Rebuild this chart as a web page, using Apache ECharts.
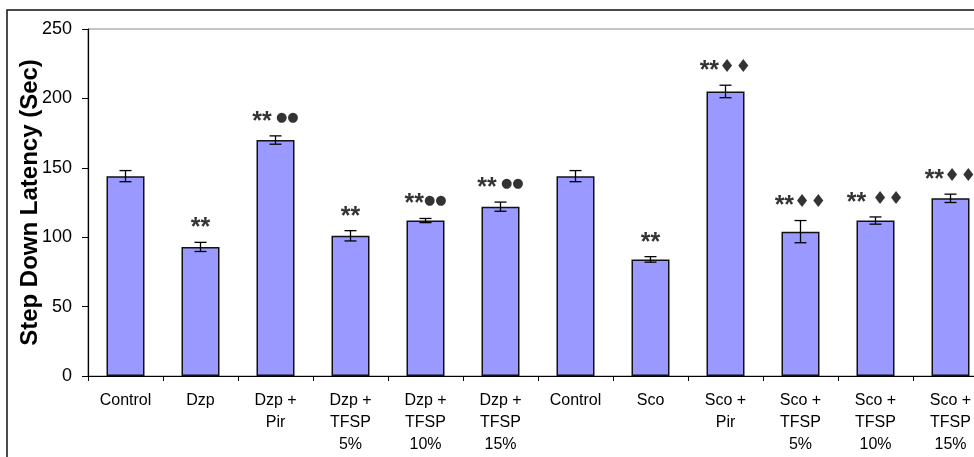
<!DOCTYPE html>
<html>
<head>
<meta charset="utf-8">
<script src="https://cdn.jsdelivr.net/npm/echarts@6/dist/echarts.min.js"></script>
<style>html,body{margin:0;padding:0;background:#fff;overflow:hidden;}#c{width:988px;height:457px;}</style>
</head>
<body>
<div id="c"></div>
<script>
const categories = ['Control', 'Dzp', 'Dzp +\nPir', 'Dzp +\nTFSP\n5%', 'Dzp +\nTFSP\n10%', 'Dzp +\nTFSP\n15%',
  'Control', 'Sco', 'Sco +\nPir', 'Sco +\nTFSP\n5%', 'Sco +\nTFSP\n10%', 'Sco +\nTFSP\n15%'];
const means = [144, 93, 170, 101, 112, 122, 144, 84, 205, 104, 112, 128];
const errors = [4, 3.3, 3, 3.7, 1.5, 3.3, 4, 2, 4.5, 8, 2.6, 3];
const stars = ['', '**', '**', '**', '**', '**', '', '**', '**', '**', '**', '**'];
const marks = ['', '', ' ●●', '', '●●', ' ●●', '', '', '♦♦', '♦♦', ' ♦♦', '♦♦'];
const yTicks = [0, 50, 100, 150, 200, 250];

const chart = echarts.init(document.getElementById('c'), null, {renderer: 'canvas'});
const font = 'Liberation Sans, Arial, sans-serif';

chart.setOption({
  animation: false,
  backgroundColor: '#fff',
  textStyle: {fontFamily: font},
  graphic: [{
    type: 'rect', z: -1,
    shape: {x: 7, y: 10, width: 1200, height: 800},
    style: {fill: 'none', stroke: '#111', lineWidth: 1.5}
  }],
  grid: {left: 88, top: 29, width: 900, height: 347, show: true, borderColor: '#8a8a8a', borderWidth: 1},
  xAxis: {
    type: 'category', data: categories,
    axisLine: {lineStyle: {color: '#000', width: 1.2}},
    axisTick: {show: true, length: 5, lineStyle: {color: '#000'}},
    axisLabel: {color: '#000', fontSize: 16, lineHeight: 22, margin: 14, interval: 0, fontFamily: font}
  },
  yAxis: {
    type: 'value', min: yTicks[0], max: yTicks[yTicks.length - 1], interval: 50,
    name: 'Step Down Latency (Sec)', nameLocation: 'middle', nameGap: 46, nameMoveOverlap: false,
    nameTextStyle: {color: '#000', fontSize: 24, fontWeight: 'bold', fontFamily: font},
    axisLine: {show: true, lineStyle: {color: '#000', width: 1.2}},
    axisTick: {show: true, length: 6, lineStyle: {color: '#000'}},
    axisLabel: {color: '#000', fontSize: 18, margin: 16, fontFamily: font},
    splitLine: {show: false}
  },
  series: [
    {
      type: 'bar', data: means, barWidth: 38,
      itemStyle: {color: '#9999ff', borderColor: '#111', borderWidth: 1.5}
    },
    {
      type: 'custom', z: 5,
      data: means.map((m, i) => [i, m - errors[i], m + errors[i]]),
      renderItem: function (params, api) {
        const lo = api.coord([api.value(0), api.value(1)]);
        const hi = api.coord([api.value(0), api.value(2)]);
        const hw = 6;
        const st = {stroke: '#000', lineWidth: 1.3};
        return {type: 'group', children: [
          {type: 'line', shape: {x1: lo[0], y1: lo[1], x2: hi[0], y2: hi[1]}, style: st},
          {type: 'line', shape: {x1: lo[0] - hw, y1: lo[1], x2: lo[0] + hw, y2: lo[1]}, style: st},
          {type: 'line', shape: {x1: hi[0] - hw, y1: hi[1], x2: hi[0] + hw, y2: hi[1]}, style: st}
        ]};
      }
    },
    {
      type: 'scatter', symbolSize: 0, z: 6,
      data: means.map((m, i) => [i, m + errors[i]]),
      label: {
        show: true, position: 'top', distance: 1,
        formatter: function (p) {
          const i = p.dataIndex;
          if (!stars[i]) return '';
          const mk = marks[i];
          const style = mk.indexOf('♦') >= 0 ? 'd' : 'b';
          return '{a|' + stars[i] + '}' + (mk ? '{' + style + '|' + mk + '}' : '');
        },
        rich: {
          a: {fontSize: 25, fontWeight: 'bold', color: '#000', fontFamily: font, lineHeight: 26},
          b: {fontSize: 13, color: '#000', fontFamily: 'DejaVu Sans, sans-serif', lineHeight: 26, padding: [0, 0, 8, 0]},
          d: {fontSize: 18, color: '#000', fontFamily: 'DejaVu Sans, sans-serif', lineHeight: 26, padding: [0, 0, 8, 0]}
        }
      }
    }
  ]
});
</script>
</body>
</html>
